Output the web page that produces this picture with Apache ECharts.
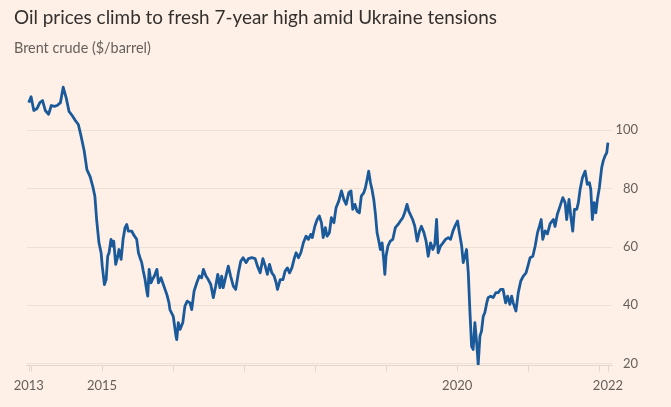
<!DOCTYPE html>
<html lang="en">
<head>
<meta charset="utf-8" />
<title>Brent crude</title>
<script src="https://cdn.jsdelivr.net/npm/echarts@6/dist/echarts.min.js"></script>
<style>
  html, body { margin: 0; padding: 0; background: #fef0e6; }
  #chart { width: 671px; height: 407px; }
</style>
</head>
<body>
<div id="chart"></div>
<script>
// Brent crude, $/barrel (date, price)
var brent2013 = [['2013-12-20', 109.5]];
var brent2014 = [
  ['2014-01-01', 111.5], ['2014-01-15', 106.8], ['2014-02-01', 107.5], ['2014-02-15', 109.5],
  ['2014-03-01', 110.2], ['2014-03-15', 106.8], ['2014-04-01', 105.5], ['2014-04-15', 108.5],
  ['2014-05-01', 108.2], ['2014-05-15', 108.5], ['2014-06-01', 109.5], ['2014-06-15', 114.8],
  ['2014-07-01', 111], ['2014-07-15', 106.5], ['2014-08-01', 105], ['2014-08-15', 103.5],
  ['2014-09-01', 102], ['2014-09-15', 98], ['2014-10-01', 93], ['2014-10-15', 86.5],
  ['2014-11-01', 84], ['2014-11-15', 80.5], ['2014-11-25', 77.4], ['2014-12-04', 69.4],
  ['2014-12-16', 61.4], ['2014-12-27', 58]
];
var brent2015 = [
  ['2015-01-02', 53.4], ['2015-01-13', 47.1], ['2015-01-22', 48.8], ['2015-01-30', 56.8],
  ['2015-02-06', 58], ['2015-02-16', 62.6], ['2015-02-23', 60.3], ['2015-03-02', 62],
  ['2015-03-12', 54], ['2015-03-23', 56.8], ['2015-03-29', 59.1], ['2015-04-09', 55.7],
  ['2015-04-19', 62.6], ['2015-04-29', 66.6], ['2015-05-08', 67.7], ['2015-05-16', 65.4],
  ['2015-05-25', 64.9], ['2015-06-03', 65.4], ['2015-06-11', 64.3], ['2015-06-20', 64.9],
  ['2015-06-28', 62.6], ['2015-07-07', 58], ['2015-07-15', 56.3], ['2015-07-24', 54.6],
  ['2015-08-01', 51.7], ['2015-08-10', 48.8], ['2015-08-19', 44.8], ['2015-08-24', 43.1],
  ['2015-08-31', 52.3], ['2015-09-10', 47.7], ['2015-09-17', 48.8], ['2015-09-27', 50],
  ['2015-10-10', 52.3], ['2015-10-18', 47.7], ['2015-10-31', 49.4], ['2015-11-12', 47.1],
  ['2015-11-21', 45.4], ['2015-11-30', 43.7], ['2015-12-11', 40.8], ['2015-12-16', 38.5]
];
var brent2016 = [
  ['2016-01-02', 36.2], ['2016-01-16', 29.4], ['2016-01-20', 28.2], ['2016-01-28', 34],
  ['2016-02-06', 31.7], ['2016-02-20', 34], ['2016-03-02', 39.7], ['2016-03-14', 41.4],
  ['2016-03-28', 40.8], ['2016-04-06', 38.5], ['2016-04-18', 44.8], ['2016-05-02', 47.7],
  ['2016-05-15', 50], ['2016-05-27', 49.4], ['2016-06-05', 52.3], ['2016-06-18', 50],
  ['2016-06-30', 48.8], ['2016-07-13', 47.1], ['2016-07-26', 42.6], ['2016-08-07', 46.5],
  ['2016-08-18', 50.6], ['2016-08-29', 46], ['2016-09-07', 50], ['2016-09-15', 46],
  ['2016-09-29', 50], ['2016-10-11', 53.4], ['2016-10-23', 50], ['2016-11-06', 46.5],
  ['2016-11-18', 45.4], ['2016-12-02', 51.1], ['2016-12-14', 55.1], ['2016-12-26', 56.3]
];
var brent2017 = [
  ['2017-01-11', 54.6], ['2017-01-23', 56], ['2017-02-09', 56.3], ['2017-02-26', 56],
  ['2017-03-10', 53.4], ['2017-03-24', 51.1], ['2017-04-07', 56], ['2017-04-19', 53.4],
  ['2017-04-30', 50.6], ['2017-05-11', 54], ['2017-05-23', 51.1], ['2017-06-04', 50],
  ['2017-06-14', 47.7], ['2017-06-21', 45.4], ['2017-07-05', 48.8], ['2017-07-19', 48.8],
  ['2017-07-30', 51.7], ['2017-08-11', 52.8], ['2017-08-22', 51.1], ['2017-09-03', 52.8],
  ['2017-09-15', 56], ['2017-09-25', 58], ['2017-10-07', 56.3], ['2017-10-19', 58],
  ['2017-11-01', 61.4], ['2017-11-15', 63.7], ['2017-11-27', 62.6], ['2017-12-09', 64.3],
  ['2017-12-17', 63.2], ['2017-12-30', 67.1]
];
var brent2018 = [
  ['2018-01-11', 69.4], ['2018-01-22', 70.6], ['2018-02-02', 68.3], ['2018-02-11', 63.2],
  ['2018-02-22', 66.6], ['2018-03-03', 63.7], ['2018-03-15', 64.9], ['2018-03-25', 70],
  ['2018-04-07', 68.3], ['2018-04-18', 73.4], ['2018-05-02', 75.7], ['2018-05-16', 79.2],
  ['2018-05-28', 76.3], ['2018-06-09', 74.6], ['2018-06-23', 78.6], ['2018-07-04', 79.2],
  ['2018-07-13', 72.9], ['2018-07-24', 74.6], ['2018-08-04', 72.3], ['2018-08-16', 71.7],
  ['2018-08-26', 77.4], ['2018-09-08', 78.6], ['2018-09-16', 80.3], ['2018-09-25', 83.2],
  ['2018-10-03', 86], ['2018-10-12', 82], ['2018-10-20', 79.7], ['2018-10-29', 76.3],
  ['2018-11-06', 71.7], ['2018-11-15', 64.9], ['2018-11-24', 62], ['2018-12-02', 59.1],
  ['2018-12-11', 61.4], ['2018-12-19', 55.7], ['2018-12-25', 50.6], ['2018-12-31', 56.8]
];
var brent2019 = [
  ['2019-01-10', 60.3], ['2019-01-22', 62], ['2019-02-04', 62.6], ['2019-02-17', 66.6],
  ['2019-03-03', 67.7], ['2019-03-15', 68.9], ['2019-03-27', 70], ['2019-04-06', 71.7],
  ['2019-04-18', 74.6], ['2019-04-27', 72.3], ['2019-05-05', 71.7], ['2019-05-17', 69.4],
  ['2019-05-28', 67.1], ['2019-06-09', 62], ['2019-06-21', 65.4], ['2019-07-01', 67.1],
  ['2019-07-14', 64.9], ['2019-07-25', 62], ['2019-08-05', 56.8], ['2019-08-17', 61.4],
  ['2019-08-29', 59.1], ['2019-09-08', 60.9], ['2019-09-17', 69.4], ['2019-09-25', 58],
  ['2019-10-07', 60.3], ['2019-10-20', 61.4], ['2019-11-02', 62.6], ['2019-11-16', 63.2],
  ['2019-11-28', 62.6], ['2019-12-10', 65.4], ['2019-12-23', 67.5]
];
var brent2020 = [
  ['2020-01-03', 68.9], ['2020-01-11', 65.4], ['2020-01-24', 60.3], ['2020-02-01', 54.6],
  ['2020-02-10', 56.8], ['2020-02-18', 59.1], ['2020-02-27', 51.1], ['2020-03-06', 38.5],
  ['2020-03-15', 25.9], ['2020-03-23', 24.8], ['2020-04-01', 34], ['2020-04-10', 27.1],
  ['2020-04-18', 19.7], ['2020-04-27', 29.4], ['2020-05-05', 31.1], ['2020-05-14', 36.2],
  ['2020-05-22', 37.4], ['2020-06-01', 40.8], ['2020-06-08', 42.6], ['2020-06-21', 43.1],
  ['2020-07-04', 42.6], ['2020-07-18', 44.3], ['2020-07-30', 44.3], ['2020-08-11', 45.4],
  ['2020-08-24', 45.4], ['2020-09-06', 40.8], ['2020-09-16', 43.1], ['2020-09-28', 40.3],
  ['2020-10-07', 43.1], ['2020-10-15', 40.8], ['2020-10-29', 38], ['2020-11-10', 44.3],
  ['2020-11-23', 48.3], ['2020-12-06', 50], ['2020-12-20', 51.1]
];
var brent2021 = [
  ['2021-01-01', 54], ['2021-01-10', 56.3], ['2021-01-24', 56.8], ['2021-02-05', 60.3],
  ['2021-02-17', 64.9], ['2021-02-27', 67.1], ['2021-03-08', 69.4], ['2021-03-16', 62.6],
  ['2021-03-28', 65.5], ['2021-04-09', 64.5], ['2021-04-23', 68], ['2021-05-10', 69.4],
  ['2021-05-18', 67], ['2021-05-30', 71.2], ['2021-06-13', 74], ['2021-06-27', 76.9],
  ['2021-07-09', 75.2], ['2021-07-17', 69.4], ['2021-07-29', 76.3], ['2021-08-07', 70.6],
  ['2021-08-17', 65.4], ['2021-08-26', 72.9], ['2021-09-07', 72.9], ['2021-09-15', 75.2],
  ['2021-09-24', 79.7], ['2021-10-06', 83.7], ['2021-10-20', 86], ['2021-10-31', 81.5],
  ['2021-11-11', 82], ['2021-11-18', 79.7], ['2021-11-26', 69.4], ['2021-12-05', 75.2],
  ['2021-12-14', 71.7], ['2021-12-22', 76.3]
];
var brent2022 = [
  ['2022-01-01', 80.3], ['2022-01-13', 87.2], ['2022-01-21', 89.5], ['2022-01-30', 91.2],
  ['2022-02-08', 92.3], ['2022-02-14', 95.8]
];

// x axis: ticks at first/last date and every new year, labels on a few of them
var tickDates = ['2013-12-20', '2014-01-01', '2015-01-01', '2016-01-01', '2017-01-01',
  '2018-01-01', '2019-01-01', '2020-01-01', '2021-01-01', '2022-01-01', '2022-02-14'];
var labelDates = ['2013-12-20', '2015-01-01', '2020-01-01', '2022-02-14'];

// y axis
var yMin = 20, yMax = 120, yStep = 20;

// local-time timestamp from 'YYYY-MM-DD'
function ts(s) {
  var p = s.split('-');
  return new Date(+p[0], +p[1] - 1, +p[2]).getTime();
}

var series = [].concat(brent2013, brent2014, brent2015, brent2016, brent2017,
  brent2018, brent2019, brent2020, brent2021, brent2022).map(function (d) {
  return [ts(d[0]), d[1]];
});

var chart = echarts.init(document.getElementById('chart'), null, { renderer: 'canvas' });

var grey = '#66605c';
var font = 'Lato, "Noto Sans", sans-serif';

chart.setOption({
  backgroundColor: '#fef0e6',
  animation: false,
  textStyle: { fontFamily: font },
  title: [
    {
      text: 'Oil prices climb to fresh 7-year high amid Ukraine tensions',
      left: 9, top: 3,
      textStyle: { fontFamily: font, fontSize: 18.9, fontWeight: 'normal', color: '#33302e' }
    },
    {
      text: 'Brent crude ($/barrel)',
      left: 9, top: 36,
      textStyle: { fontFamily: font, fontSize: 14.4, fontWeight: 'normal', color: grey }
    }
  ],
  grid: { left: 27, right: 59, top: 72, bottom: 43.5 },
  xAxis: {
    // timestamps on a plain value axis, so ticks can sit on chosen dates
    type: 'value',
    min: ts('2013-12-11'),
    max: ts('2022-03-07'),
    offset: 2,
    axisLine: { show: true, lineStyle: { color: '#e2d5ca', width: 1 } },
    axisTick: {
      show: true, length: 6,
      customValues: tickDates.map(ts),
      lineStyle: { color: '#e2d5ca' }
    },
    axisLabel: {
      customValues: labelDates.map(ts),
      margin: 14,
      fontSize: 13,
      color: grey,
      fontFamily: font,
      formatter: function (v) { return String(new Date(v).getFullYear()); }
    },
    splitLine: { show: false }
  },
  yAxis: {
    type: 'value',
    position: 'right',
    min: yMin, max: yMax, interval: yStep,
    axisLine: { show: false },
    axisTick: { show: false },
    axisLabel: {
      showMaxLabel: false,
      align: 'right',
      margin: 26,
      fontSize: 13,
      color: grey,
      fontFamily: font
    },
    splitLine: {
      show: true,
      showMaxLine: false,
      lineStyle: { color: '#ede1d6', width: 1 }
    }
  },
  series: [
    {
      name: 'Brent crude',
      type: 'line',
      data: series,
      showSymbol: false,
      symbol: 'none',
      lineStyle: { color: '#1b5a9a', width: 2.8, join: 'round' }
    }
  ]
});
</script>
</body>
</html>
